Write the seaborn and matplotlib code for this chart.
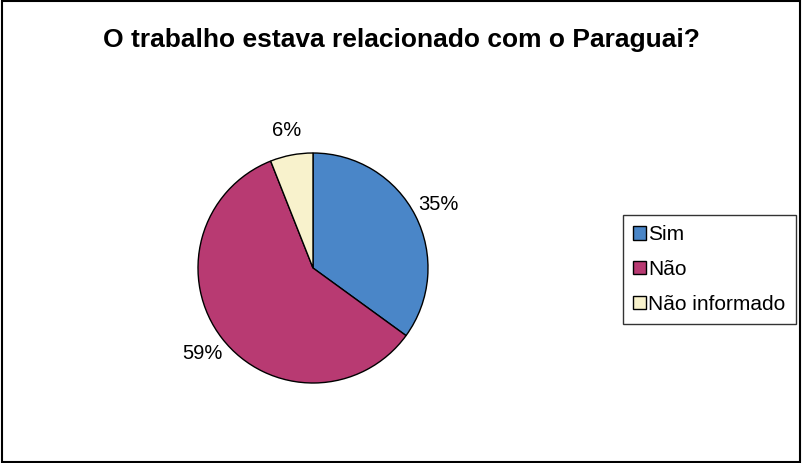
import matplotlib.pyplot as plt
import seaborn as sns
from matplotlib.patches import Rectangle

# data
categories = ['Sim', 'Não', 'Não informado']
percentages = [35, 59, 6]
colors = ['#4A86C8', '#B83A72', '#F8F2CC']
title = 'O trabalho estava relacionado com o Paraguai?'

sns.set_style('white')
plt.rcParams['font.family'] = ['Liberation Sans', 'DejaVu Sans']
plt.rcParams['text.color'] = 'black'

fig = plt.figure(figsize=(8.02, 4.63), dpi=100)

# pie axes, placed so the pie sits left of centre like the original
ax = fig.add_axes([169.25 / 802, 51.25 / 463, 287.5 / 802, 287.5 / 463])
wedges, texts, autotexts = ax.pie(
    percentages,
    colors=colors,
    startangle=90,
    counterclock=False,
    autopct='%1.0f%%',
    pctdistance=1.22,
    wedgeprops=dict(edgecolor='black', linewidth=1),
    textprops=dict(fontsize=14.5, color='black'),
)

fig.suptitle(title, fontsize=19, fontweight='bold', color='black', y=1 - 28 / 463)

# legend with small square handles like the original
handles = [Rectangle((0, 0), 1, 1, facecolor=c, edgecolor='black', linewidth=1) for c in colors]
leg = fig.legend(
    handles, categories,
    loc='upper left',
    bbox_to_anchor=(623 / 802, 1 - 215 / 463),
    fontsize=15,
    frameon=True,
    fancybox=False,
    handlelength=0.6,
    handleheight=0.6,
    handletextpad=0.1,
    labelspacing=0.75,
    borderpad=0.5,
    borderaxespad=0,
)
leg.get_frame().set_edgecolor('black')
leg.get_frame().set_linewidth(1)
for t in leg.get_texts():
    t.set_color('black')

# outer chart border
fig.patches.append(Rectangle((0.002, 0.003), 0.995, 0.994, transform=fig.transFigure,
                             fill=False, edgecolor='black', linewidth=1.5))

fig.savefig('out.png', dpi=100)
